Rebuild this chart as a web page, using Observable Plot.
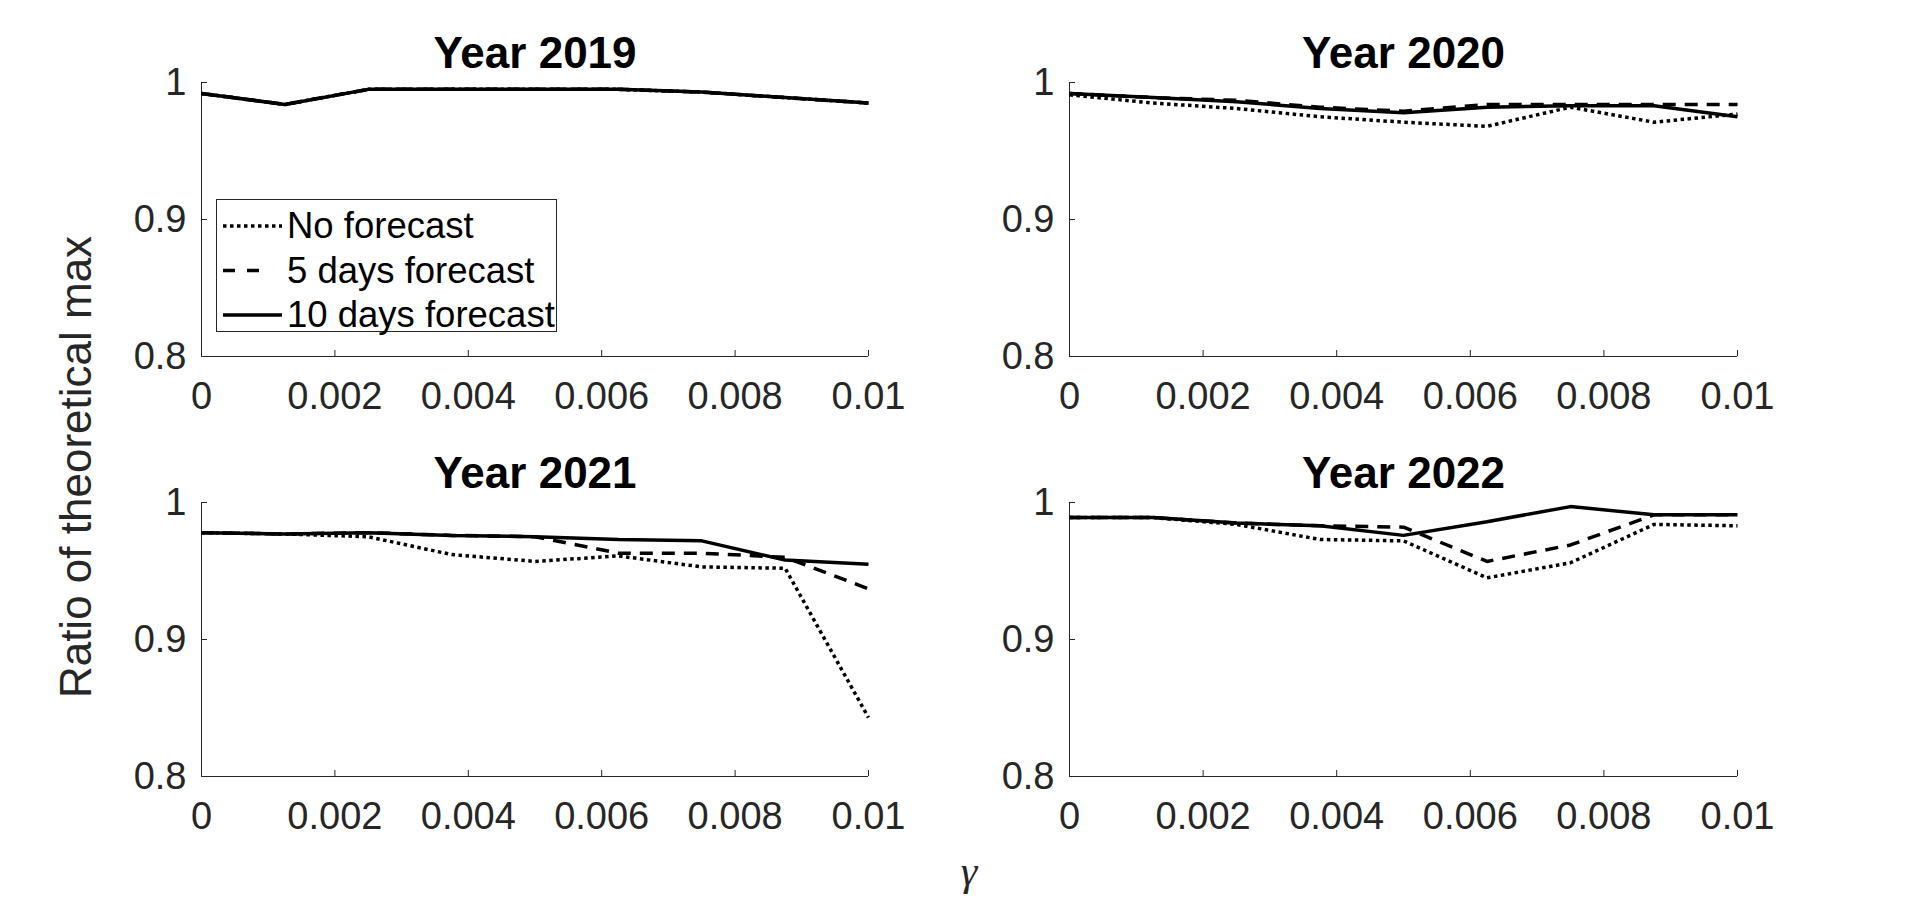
<!DOCTYPE html>
<html><head><meta charset="utf-8">
<script src="https://cdn.jsdelivr.net/npm/d3@7"></script>
<script src="https://cdn.jsdelivr.net/npm/@observablehq/plot@0.6"></script>
<style>
html,body{margin:0;padding:0;background:#fff;overflow:hidden}
#fig{position:relative;width:1920px;height:911px;background:#fff;font-family:"Liberation Sans",Arial,Helvetica,sans-serif;overflow:hidden}
.panel{position:absolute}
.ylab{position:absolute;left:76px;top:467px;transform:translate(-50%,-50%) rotate(-90deg);font-size:44px;line-height:1;white-space:nowrap;color:#262626}
.xlab{position:absolute;left:969px;top:850px;transform:translateX(-50%);font-family:"Liberation Serif","DejaVu Serif",serif;font-style:italic;font-size:42px;line-height:1;color:#262626}
</style></head><body><div id="fig"></div>
<script>
// ---- data ----
const gamma = [0, 0.00125, 0.0025, 0.00375, 0.005, 0.00625, 0.0075, 0.00875, 0.01];
const years = ["Year 2019", "Year 2020", "Year 2021", "Year 2022"];
const seriesNames = ["No forecast", "5 days forecast", "10 days forecast"];

const noForecast2019 = [0.992, 0.984, 0.995, 0.995, 0.995, 0.995, 0.993, 0.989, 0.985];
const days5_2019     = [0.992, 0.984, 0.995, 0.995, 0.995, 0.995, 0.993, 0.989, 0.985];
const days10_2019    = [0.992, 0.984, 0.995, 0.995, 0.995, 0.995, 0.993, 0.989, 0.985];

const noForecast2020 = [0.991, 0.985, 0.981, 0.975, 0.971, 0.968, 0.982, 0.971, 0.977];
const days5_2020     = [0.992, 0.989, 0.987, 0.982, 0.979, 0.984, 0.984, 0.984, 0.984];
const days10_2020    = [0.992, 0.989, 0.986, 0.981, 0.978, 0.982, 0.983, 0.983, 0.975];

const noForecast2021 = [0.978, 0.977, 0.975, 0.962, 0.957, 0.961, 0.953, 0.952, 0.843];
const days5_2021     = [0.978, 0.977, 0.978, 0.976, 0.975, 0.963, 0.963, 0.960, 0.937];
const days10_2021    = [0.978, 0.977, 0.978, 0.976, 0.975, 0.973, 0.972, 0.958, 0.955];

const noForecast2022 = [0.989, 0.989, 0.984, 0.973, 0.972, 0.945, 0.956, 0.984, 0.983];
const days5_2022     = [0.989, 0.989, 0.985, 0.983, 0.982, 0.957, 0.969, 0.991, 0.991];
const days10_2022    = [0.989, 0.989, 0.985, 0.983, 0.976, 0.986, 0.997, 0.991, 0.991];

const xTicks = [0, 0.002, 0.004, 0.006, 0.008, 0.01];
const xTickLabels = ["0", "0.002", "0.004", "0.006", "0.008", "0.01"];
const yTicks = [0.8, 0.9, 1];
const yTickLabels = ["0.8", "0.9", "1"];

// ---- styles ----
const dashes = ["3.5,3.5", "13,9", null];
const legendDashes = ["3.5,3.5", "12,12,12,40", null];
const axisColor = "#262626";
const lineWidth = 3.5;
const panelData = [
  [noForecast2019, days5_2019, days10_2019],
  [noForecast2020, days5_2020, days10_2020],
  [noForecast2021, days5_2021, days10_2021],
  [noForecast2022, days5_2022, days10_2022]
];
const layout = [
  {left: 0,   top: 0,   height: 420, ml: 201, mr: 92,  mt: 82, mb: 64},
  {left: 960, top: 0,   height: 420, ml: 109, mr: 183, mt: 82, mb: 64},
  {left: 0,   top: 420, height: 491, ml: 201, mr: 92,  mt: 82, mb: 135},
  {left: 960, top: 420, height: 491, ml: 109, mr: 183, mt: 82, mb: 135}
];

const fig = document.getElementById("fig");

years.forEach((title, p) => {
  const L = layout[p];
  const lines = panelData[p].map((vals, s) => {
    const rows = gamma.map((g, i) => ({gamma: g, value: vals[i]}));
    const o = {x: "gamma", y: "value", stroke: "black", strokeWidth: lineWidth, strokeLinecap: "butt", strokeLinejoin: "miter"};
    if (dashes[s]) o.strokeDasharray = dashes[s];
    return Plot.line(rows, o);
  });
  const chart = Plot.plot({
    width: 960,
    height: L.height,
    marginLeft: L.ml, marginRight: L.mr, marginTop: L.mt, marginBottom: L.mb,
    style: {fontFamily: '"Liberation Sans", Arial, Helvetica, sans-serif', fontSize: "38px", color: axisColor, background: "transparent", overflow: "visible"},
    x: {domain: [0, 0.01], axis: null},
    y: {domain: [0.8, 1], axis: null},
    marks: [
      Plot.axisX(xTicks, {tickSize: -6, tickPadding: 32, color: axisColor, tickFormat: d => xTickLabels[xTicks.indexOf(d)], label: null}),
      Plot.axisY(yTicks, {tickSize: -6, tickPadding: 21, color: axisColor, tickFormat: d => yTickLabels[yTicks.indexOf(d)], label: null}),
      Plot.ruleY([0.8], {stroke: axisColor, strokeWidth: 1}),
      Plot.ruleX([0], {stroke: axisColor, strokeWidth: 1}),
      ...lines,
      Plot.text([title], {text: d => d, frameAnchor: "top", dy: -15, lineAnchor: "bottom", fontSize: 44, fontWeight: "bold", fill: "black"})
    ]
  });
  const div = document.createElement("div");
  div.className = "panel";
  div.style.left = L.left + "px";
  div.style.top = L.top + "px";
  div.style.width = "960px";
  div.appendChild(chart);
  fig.appendChild(div);
});

// legend (inside the 2019 panel)
const leg = d3.create("svg")
  .attr("width", 341).attr("height", 133)
  .style("position", "absolute").style("left", "216px").style("top", "199px").style("overflow", "visible");
leg.append("rect").attr("x", 0.5).attr("y", 0.5).attr("width", 340).attr("height", 132)
  .attr("fill", "white").attr("stroke", axisColor).attr("stroke-width", 1);
seriesNames.forEach((name, i) => {
  const base = 39 + i * 44.5;
  leg.append("line").attr("x1", 7).attr("x2", 66).attr("y1", base - 12).attr("y2", base - 12)
    .attr("stroke", "black").attr("stroke-width", lineWidth)
    .attr("stroke-dasharray", legendDashes[i]);
  leg.append("text").attr("x", 71).attr("y", base).text(name)
    .attr("font-family", '"Liberation Sans", Arial, Helvetica, sans-serif').attr("font-size", 36.5).attr("fill", "black");
});
fig.appendChild(leg.node());

// shared axis labels
const yl = document.createElement("div");
yl.className = "ylab"; yl.textContent = "Ratio of theoretical max";
fig.appendChild(yl);
const xl = document.createElement("div");
xl.className = "xlab"; xl.textContent = "γ";
fig.appendChild(xl);
</script></body></html>
